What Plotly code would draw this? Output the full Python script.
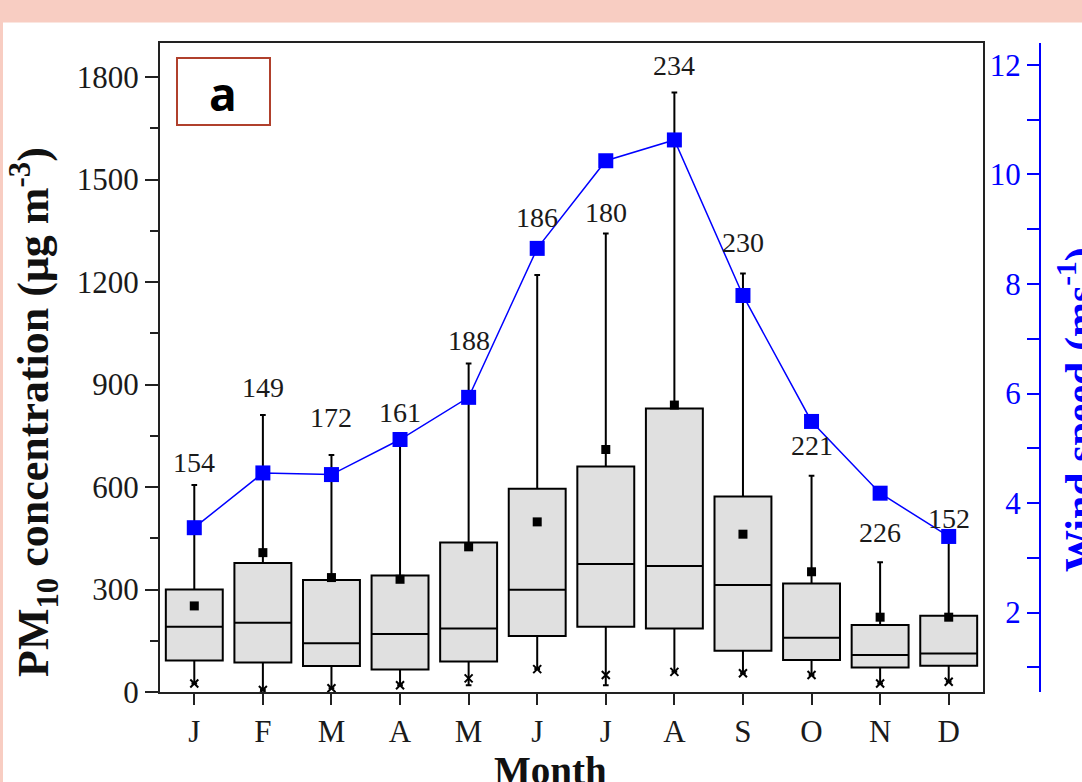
import plotly.graph_objects as go

# ---------------- data ----------------
month_labels = ["J", "F", "M", "A", "M", "J", "J", "A", "S", "O", "N", "D"]
q1 = [92, 86, 76, 66, 89, 164, 191, 186, 121, 94, 72, 77]
median = [191, 203, 143, 170, 186, 299, 375, 369, 313, 159, 108, 113]
q3 = [300, 378, 328, 341, 438, 595, 660, 830, 572, 318, 196, 223]
whisker_low = [25, 6, 11, 20, 20, 67, 20, 59, 55, 50, 25, 30]
whisker_high = [606, 811, 694, 740, 962, 1221, 1342, 1755, 1225, 633, 380, 450]
low_marks = [25, 6, 11, 20, 40, 67, 50, 59, 55, 50, 25, 30]
means = [252, 408, 335, 330, 425, 498, 710, 840, 462, 352, 219, 219]
wind_speed = [3.55, 4.55, 4.52, 5.16, 5.93, 8.65, 10.25, 10.63, 7.79, 5.49, 4.18, 3.39]
count_labels = ["154", "149", "172", "161", "188", "186", "180", "234", "230", "221", "226", "152"]

# label offsets (pixels above whisker tops) - layout only
label_shift = [23, 27, 37, 27, 23, 57, 21, 27, 31, 30, 30, 20]

xpos = list(range(len(month_labels)))

SERIF = "Liberation Serif, Times New Roman, serif"
BLUE = "#0000ff"

fig = go.Figure()

fig.add_trace(go.Box(
    x=xpos, q1=q1, median=median, q3=q3,
    lowerfence=whisker_low, upperfence=whisker_high,
    width=0.83, whiskerwidth=0.1,
    fillcolor="#e0e0e0", line=dict(color="black", width=2),
    boxpoints=False, showlegend=False, hoverinfo="skip",
))

fig.add_trace(go.Scatter(
    x=xpos, y=means, mode="markers",
    marker=dict(symbol="square", size=9, color="black"),
    showlegend=False, hoverinfo="skip",
))

fig.add_trace(go.Scatter(
    x=xpos, y=low_marks, mode="markers",
    marker=dict(symbol="x-thin", size=8, color="black", line=dict(width=2, color="black")),
    showlegend=False, hoverinfo="skip",
))

fig.add_trace(go.Scatter(
    x=xpos, y=wind_speed, mode="lines+markers", yaxis="y2",
    line=dict(color=BLUE, width=1.5),
    marker=dict(symbol="square", size=15, color=BLUE),
    showlegend=False, hoverinfo="skip",
))

annotations = []
for i, lab in enumerate(count_labels):
    annotations.append(dict(
        x=xpos[i], y=whisker_high[i], xref="x", yref="y", text=lab,
        showarrow=False, yanchor="middle", yshift=label_shift[i],
        font=dict(family=SERIF, size=28, color="#1a1a1a"),
    ))

# axis titles
annotations.append(dict(
    x=(34 - 160) / 900, y=(692 - 412) / 649, xref="paper", yref="paper", textangle=-90,
    text="<b>PM<sub>10</sub> concentration (μg m<sup>-3</sup>)</b>",
    showarrow=False, xanchor="center", yanchor="middle",
    font=dict(family=SERIF, size=44, color="#111111"),
))
annotations.append(dict(
    x=(550 - 160) / 900, y=(692 - 770) / 649, xref="paper", yref="paper",
    text="<b>Month</b>", showarrow=False, xanchor="center", yanchor="middle",
    font=dict(family=SERIF, size=39, color="#111111"),
))
annotations.append(dict(
    x=(1077 - 160) / 900, y=(692 - 410) / 649, xref="paper", yref="paper", textangle=-90,
    text="<b>Wind speed (ms<sup>-1</sup>)</b>", showarrow=False,
    xanchor="center", yanchor="middle",
    font=dict(family=SERIF, size=42, color=BLUE),
))
# panel letter
annotations.append(dict(
    x=(223 - 160) / 900, y=(692 - 93) / 649, xref="paper", yref="paper",
    text="<b>a</b>", showarrow=False, xanchor="center", yanchor="middle",
    font=dict(family="Open Sans, sans-serif", size=46, color="black"),
))

shapes = [
    # label box
    dict(type="rect", xref="paper", yref="paper",
         x0=(177 - 160) / 900, x1=(270 - 160) / 900,
         y0=(692 - 125) / 649, y1=(692 - 58) / 649,
         line=dict(color="#b0402c", width=2), fillcolor="white"),
    # pink frame (top band and left strip)
    dict(type="rect", xref="paper", yref="paper",
         x0=-0.2, x1=1.05, y0=(692 - 22.5) / 649, y1=1.1,
         line=dict(width=0), fillcolor="#f8cdc2", layer="above"),
    dict(type="rect", xref="paper", yref="paper",
         x0=-0.2, x1=(3 - 160) / 900, y0=-0.2, y1=1.1,
         line=dict(width=0), fillcolor="#f8cdc2", layer="above"),
]

fig.update_layout(
    width=1082, height=782,
    margin=dict(l=160, r=22, t=43, b=90),
    paper_bgcolor="white", plot_bgcolor="white",
    showlegend=False,
    xaxis=dict(
        domain=[0, (983 - 160) / 900],
        range=[-0.5, 11.5], tickmode="array", tickvals=xpos, ticktext=month_labels,
        showline=True, linecolor="#222", linewidth=2, mirror=True,
        ticks="outside", ticklen=11, tickwidth=2, tickcolor="#222",
        showgrid=False, zeroline=False,
        tickfont=dict(family=SERIF, size=31, color="#1a1a1a"),
    ),
    yaxis=dict(
        range=[0, 1900], tickvals=[0, 300, 600, 900, 1200, 1500, 1800],
        showline=True, linecolor="#222", linewidth=2, mirror=True,
        ticks="outside", ticklen=13, tickwidth=2, tickcolor="#222",
        minor=dict(dtick=150, ticks="outside", ticklen=8, tickwidth=2, tickcolor="#222", showgrid=False),
        showgrid=False, zeroline=False,
        tickfont=dict(family=SERIF, size=31, color="#1a1a1a"),
    ),
    yaxis2=dict(
        overlaying="y", anchor="free", position=(1040 - 160) / 900, side="left",
        range=[0.55, 12.4], tickvals=[2, 4, 6, 8, 10, 12],
        showline=True, linecolor=BLUE, linewidth=2,
        ticks="outside", ticklen=12, tickwidth=2, tickcolor=BLUE,
        minor=dict(dtick=1, tick0=1, ticks="outside", ticklen=12, tickwidth=2, tickcolor=BLUE, showgrid=False),
        showgrid=False, zeroline=False,
        tickfont=dict(family=SERIF, size=31, color=BLUE),
    ),
    annotations=annotations,
    shapes=shapes,
)

fig.write_html(
    "out.html",
    config={"displayModeBar": False},
    post_script="document.body.style.margin='0';document.body.style.overflow='hidden';",
)
